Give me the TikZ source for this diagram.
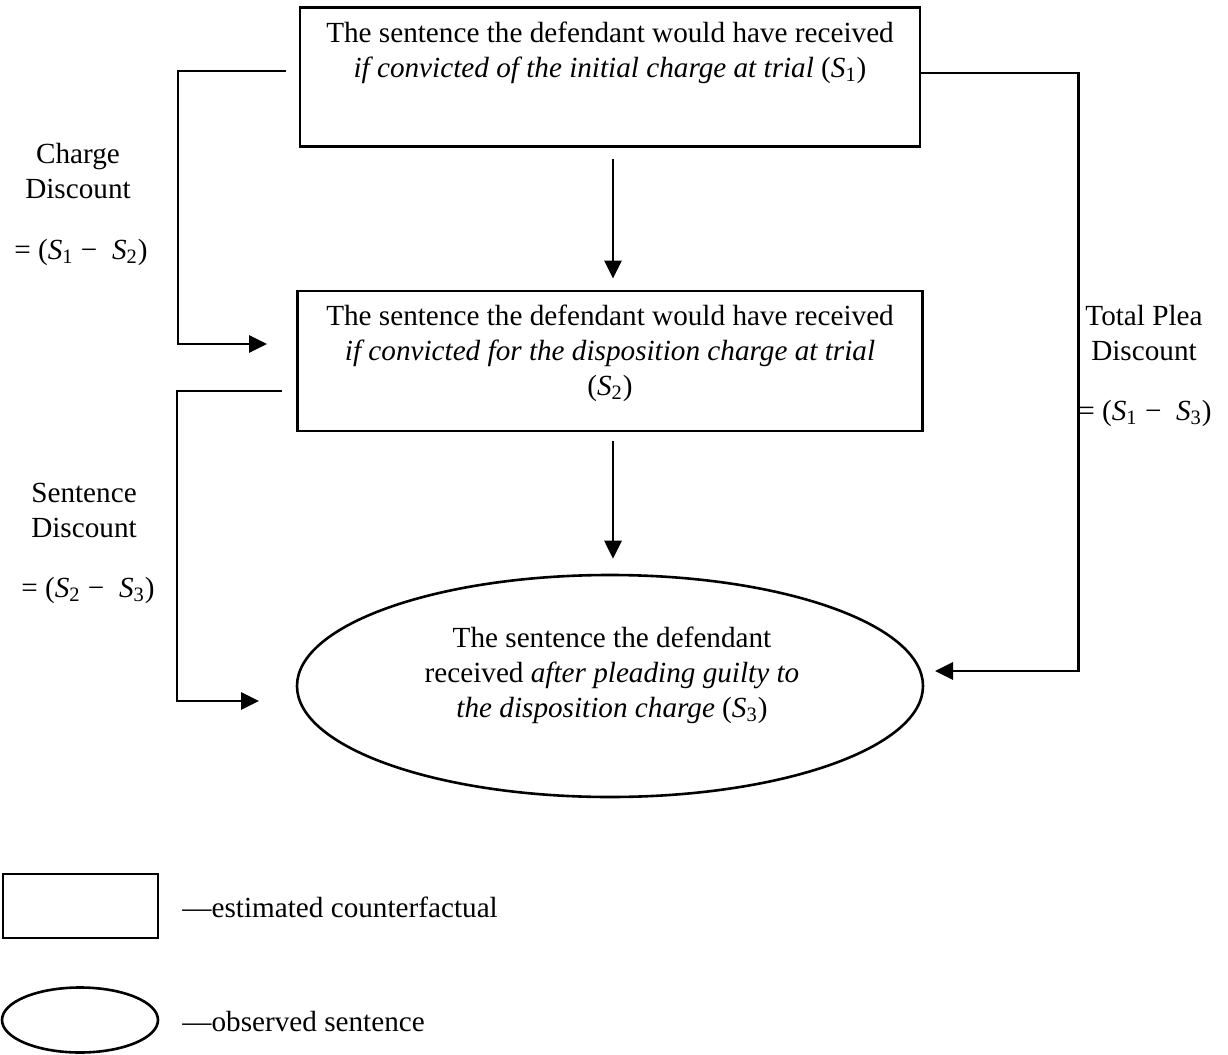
\documentclass[tikz,border=0pt]{standalone}
\usepackage{amsmath}
\usepackage{fontspec}
\setmainfont{Liberation Serif}
\usepackage{tikz}
\usetikzlibrary{arrows.meta,shapes.geometric}

\newcommand{\sent}[1]{\textit{S}\textsubscript{#1}}

\tikzset{
  box/.style={draw, line width=1.4pt, inner sep=0pt},
  oval/.style={draw, ellipse, line width=1.3pt, inner sep=0pt},
  txt/.style={align=center, inner sep=0pt, font=\fontsize{14.6}{17.5}\selectfont},
  arr/.style={line width=1.4pt, -{Triangle[length=9pt,width=8.5pt]}},
  link/.style={line width=1.4pt}
}

\begin{document}
\begin{tikzpicture}[x=0.5pt, y=-0.5pt]
        \useasboundingbox (0,0) rectangle (1228,1055);
        % Counterfactual at trial, initial charge
        \node[box, minimum width=310pt, minimum height=69.5pt] (B1) at (610,77) {};
        \node[txt] (T1) at (610,53) {The sentence the defendant would have received\\
          \textit{if convicted of the initial charge at trial} (\sent{1})};
        % Counterfactual at trial, disposition charge
        \node[box, minimum width=312.5pt, minimum height=70pt] (B2) at (610,361) {};
        \node[txt] (T2) at (610,353) {The sentence the defendant would have received\\
          \textit{if convicted for the disposition charge at trial}\\ (\sent{2})};
        % Observed sentence
        \node[oval, minimum width=313pt, minimum height=111pt] (E3) at (610,686) {};
        \node[txt] (T3) at (612,675) {The sentence the defendant\\
          received \textit{after pleading guilty to}\\ \textit{the disposition charge} (\sent{3})};
        % Discount labels
        \node[txt] (CD) at (78,171) {Charge\\Discount};
        \node[txt] (CDeq) at (81,252) {= (\sent{1} −\ \ \sent{2})};
        \node[txt] (SD) at (84,510) {Sentence\\Discount};
        \node[txt] (SDeq) at (88,590) {= (\sent{2} −\ \ \sent{3})};
        \node[txt] (TD) at (1144,333) {Total Plea\\Discount};
        \node[txt] (TDeq) at (1145,413) {= (\sent{1} −\ \ \sent{3})};
        % Free ends of the side connectors
        \coordinate (c1s) at (286,71);
        \coordinate (c1e) at (267,344);
        \coordinate (c2s) at (282,391);
        \coordinate (c2e) at (259,701);
        \coordinate (c3e) at (935,671);
        % Arrows
        \draw[arr] ([xshift=1.5pt, yshift=-5.5pt]B1.south) -- ([xshift=1.5pt, yshift=5.5pt]B2.north);
        \draw[arr] ([xshift=1.5pt, yshift=-4.5pt]B2.south) -- ([xshift=1.5pt, yshift=7.5pt]E3.north);
        \draw[arr] (c1s) -- ++(-108,0) |- (c1e);
        \draw[arr] (c2s) -- ++(-105,0) |- (c2e);
        \draw[arr] ([yshift=2pt]B1.east) -- ++(157,0) |- (c3e);
        % Legend
        \node[box, minimum width=77.5pt, minimum height=32pt] (LB) at (80.5,906) {};
        \node[txt, anchor=west] (LBt) at (182,907) {---estimated counterfactual};
        \node[oval, minimum width=78pt, minimum height=32.5pt] (LE) at (80,1020) {};
        \node[txt, anchor=west] (LEt) at (182,1022) {---observed sentence};
    \end{tikzpicture}
\end{document}
